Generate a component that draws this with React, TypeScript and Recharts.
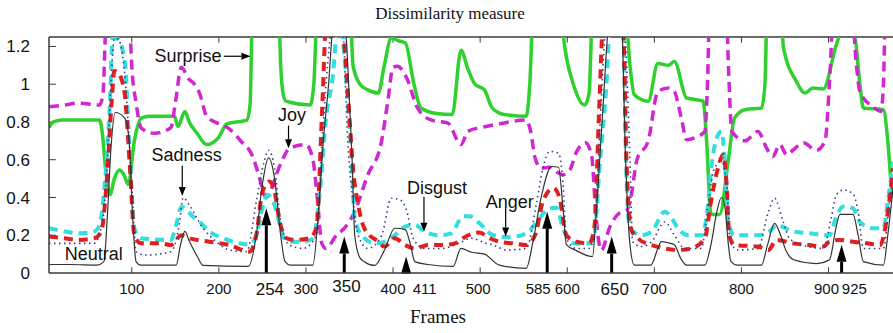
import React from "react"
import { LineChart, Line, XAxis, YAxis, ReferenceLine, ReferenceDot } from "recharts"

// [frame, value] pairs; values above 1.25 leave the plot
const neutral: [number, number][] = [
  [5, 0.045], [30, 0.045], [60, 0.042], [68, 0.06], [72, 0.3], [76, 0.65], [81, 0.85], [92, 0.82],
  [97, 0.7], [101, 0.3], [105, 0.06], [110, 0.042], [151, 0.042], [156, 0.15], [161, 0.22], [166, 0.17],
  [175, 0.09], [182, 0.04], [234, 0.035], [243, 0.2], [250, 0.47], [257, 0.61], [264, 0.5], [271, 0.2],
  [276, 0.06], [282, 0.042], [308, 0.042], [314, 0.3], [320, 0.7], [326, 1.0], [331, 1.3], [340, 1.4],
  [346, 1.26], [350, 0.9], [353, 0.6], [356, 0.2], [362, 0.08], [367, 0.06], [379, 0.04], [390, 0.12],
  [402, 0.237], [414, 0.23], [420, 0.15], [425, 0.06], [440, 0.045], [469, 0.035], [478, 0.13], [490, 0.11],
  [505, 0.1], [522, 0.042], [553, 0.025], [560, 0.15], [570, 0.4], [582, 0.564], [590, 0.56], [595, 0.35],
  [599, 0.15], [610, 0.12], [629, 0.087], [633, 0.3], [640, 0.8], [647, 1.3], [655, 1.5], [662, 1.4],
  [667, 0.6], [672, 0.15], [677, 0.042], [696, 0.042], [704, 0.13], [708, 0.166], [716, 0.16], [723, 0.15],
  [730, 0.08], [737, 0.042], [758, 0.042], [765, 0.15], [772, 0.33], [777, 0.4], [781, 0.35], [785, 0.15],
  [788, 0.06], [795, 0.042], [823, 0.042], [830, 0.15], [838, 0.263], [845, 0.2], [851, 0.12], [860, 0.07],
  [886, 0.05], [901, 0.07], [909, 0.25], [913, 0.31], [928, 0.31], [934, 0.2], [940, 0.06], [963, 0.042],
  [968, 0.2], [974, 0.45],
]

const surprise: [number, number][] = [
  [5, 0.77], [10, 0.8], [20, 0.81], [63, 0.81], [66, 0.75], [70, 0.55], [75, 0.414], [80, 0.5], [86, 0.546],
  [91, 0.52], [96, 0.47], [103, 0.7], [111, 0.82], [120, 0.83], [149, 0.83], [153, 0.776], [161, 0.856],
  [166, 0.8], [175, 0.74], [186, 0.68], [200, 0.72], [209, 0.79], [232, 0.81], [236, 0.9], [238, 1.3],
  [242, 1.5], [268, 1.5], [271, 1.1], [274, 0.944], [277, 0.91], [305, 0.89], [309, 1.0], [314, 1.5],
  [350, 1.5], [354, 1.1], [362, 1.0], [371, 0.97], [383, 0.953], [390, 1.1], [398, 1.245], [406, 1.23],
  [414, 1.22], [424, 1.0], [432, 0.874], [450, 0.845], [468, 0.84], [478, 1.18], [486, 1.08], [494, 1.0],
  [505, 0.97], [513, 0.88], [522, 0.847], [530, 0.838], [553, 0.83], [557, 1.0], [562, 1.5], [590, 1.5],
  [597, 1.2], [607, 1.0], [620, 0.89], [625, 0.95], [630, 1.5], [665, 1.5], [672, 1.1], [677, 0.944],
  [693, 0.91], [704, 1.11], [716, 1.1], [723, 1.12], [737, 0.927], [756, 0.91], [760, 0.7], [765, 0.31],
  [775, 0.31], [785, 0.6], [792, 0.82], [804, 0.865], [823, 0.874], [827, 1.0], [830, 1.5], [845, 1.5],
  [848, 1.2], [863, 1.015], [873, 0.953], [882, 0.98], [894, 0.975], [909, 1.21], [917, 1.3], [930, 1.25],
  [936, 1.0], [940, 0.874], [963, 0.865], [968, 0.7], [972, 0.467], [974, 0.4],
]

const joy: [number, number][] = [
  [5, 0.88], [23, 0.89], [38, 0.9], [63, 0.89], [67, 0.95], [70, 1.3], [73, 1.5], [95, 1.5], [98, 1.3],
  [100, 1.1], [105, 0.9], [111, 0.767], [126, 0.74], [145, 0.77], [150, 0.9], [157, 1.09], [165, 1.03],
  [172, 1.0], [178, 0.95], [186, 0.83], [200, 0.79], [210, 0.77], [225, 0.7], [239, 0.615], [245, 0.53],
  [250, 0.45], [254, 0.4], [260, 0.44], [266, 0.52], [274, 0.61], [281, 0.66], [300, 0.68], [308, 0.6],
  [313, 0.4], [318, 0.16], [323, 0.13], [335, 0.2], [344, 0.237], [356, 0.325], [371, 0.52], [386, 0.68],
  [394, 0.91], [400, 1.09], [405, 1.095], [416, 1.03], [428, 0.874], [444, 0.81], [463, 0.794], [478, 0.68],
  [486, 0.75], [505, 0.775], [522, 0.79], [553, 0.81], [558, 0.75], [563, 0.61], [570, 0.555], [580, 0.56],
  [590, 0.53], [595, 0.52], [603, 0.546], [610, 0.635], [621, 0.69], [628, 0.62], [633, 0.3], [639, 0.12],
  [649, 0.245], [660, 0.318], [668, 0.33], [673, 0.4], [680, 0.6], [693, 0.7], [704, 0.96], [716, 0.98],
  [723, 0.96], [731, 0.82], [737, 0.706], [748, 0.72], [758, 0.75], [761, 1.0], [764, 1.5], [782, 1.5],
  [785, 1.1], [789, 0.75], [804, 0.7], [819, 0.75], [829, 0.66], [836, 0.617], [844, 0.68], [852, 0.626],
  [859, 0.65], [871, 0.69], [886, 0.65], [896, 0.7], [901, 1.0], [907, 1.5], [925, 1.5], [932, 1.1],
  [936, 0.96], [951, 0.88], [960, 0.856], [963, 1.0], [966, 1.5], [974, 1.5],
]

const sadness: [number, number][] = [
  [5, 0.237], [23, 0.22], [38, 0.21], [57, 0.22], [63, 0.255], [69, 0.47], [75, 0.91], [78, 1.245],
  [84, 1.24], [92, 1.12], [98, 0.59], [103, 0.237], [111, 0.184], [145, 0.175], [151, 0.255], [157, 0.35],
  [165, 0.325], [170, 0.3], [178, 0.27], [189, 0.22], [205, 0.184], [224, 0.157], [235, 0.15], [243, 0.2],
  [250, 0.343], [256, 0.414], [264, 0.36], [270, 0.255], [275, 0.184], [281, 0.166], [297, 0.166],
  [308, 0.184], [316, 0.43], [323, 0.82], [331, 1.05], [335, 1.25], [340, 1.3], [345, 1.1], [348, 0.91],
  [352, 0.644], [356, 0.29], [364, 0.2], [379, 0.157], [390, 0.165], [402, 0.2], [414, 0.246], [425, 0.255],
  [436, 0.22], [452, 0.2], [467, 0.21], [480, 0.3], [488, 0.3], [499, 0.265], [515, 0.2], [534, 0.19],
  [553, 0.21], [565, 0.27], [580, 0.343], [588, 0.345], [595, 0.237], [610, 0.155], [625, 0.157],
  [631, 0.2], [637, 0.555], [645, 1.0], [649, 1.3], [664, 1.3], [668, 0.5], [672, 0.237], [685, 0.2],
  [697, 0.22], [712, 0.325], [720, 0.29], [727, 0.237], [739, 0.2], [754, 0.2], [762, 0.378], [765, 0.537],
  [773, 0.73], [777, 0.75], [781, 0.59], [785, 0.27], [792, 0.2], [819, 0.2], [834, 0.228], [840, 0.255],
  [859, 0.22], [878, 0.21], [901, 0.2], [909, 0.3], [917, 0.352], [928, 0.343], [936, 0.27], [951, 0.237],
  [963, 0.237], [968, 0.378], [974, 0.59],
]

const anger: [number, number][] = [
  [5, 0.193], [23, 0.184], [38, 0.175], [57, 0.184], [65, 0.22], [71, 0.467], [77, 0.91], [80, 1.07],
  [85, 1.06], [88, 1.03], [92, 0.944], [98, 0.555], [103, 0.2], [111, 0.157], [134, 0.157], [145, 0.148],
  [157, 0.2], [166, 0.184], [189, 0.166], [212, 0.148], [235, 0.113], [243, 0.2], [250, 0.43], [258, 0.485],
  [264, 0.43], [270, 0.27], [278, 0.184], [289, 0.175], [304, 0.184], [312, 0.237], [319, 0.91], [323, 1.3],
  [340, 1.3], [344, 1.21], [350, 0.82], [354, 0.555], [360, 0.36], [367, 0.237], [383, 0.166], [390, 0.14],
  [402, 0.184], [414, 0.148], [425, 0.13], [440, 0.148], [456, 0.148], [471, 0.157], [486, 0.2], [499, 0.215],
  [511, 0.184], [522, 0.166], [538, 0.157], [553, 0.148], [563, 0.2], [572, 0.378], [584, 0.45], [591, 0.4],
  [599, 0.2], [610, 0.166], [625, 0.157], [631, 0.237], [637, 0.91], [641, 1.3], [664, 1.3], [668, 0.6],
  [673, 0.237], [681, 0.184], [697, 0.148], [712, 0.13], [727, 0.122], [742, 0.13], [758, 0.184],
  [765, 0.378], [773, 0.555], [779, 0.626], [783, 0.467], [786, 0.2], [792, 0.148], [819, 0.14],
  [831, 0.122], [840, 0.175], [859, 0.157], [878, 0.148], [894, 0.14], [901, 0.166], [913, 0.175],
  [928, 0.166], [944, 0.157], [959, 0.148], [967, 0.29], [974, 0.555],
]

const disgust: [number, number][] = [
  [5, 0.157], [57, 0.157], [67, 0.29], [72, 0.6], [76, 1.0], [80, 1.24], [84, 1.24], [92, 1.05],
  [100, 0.467], [105, 0.113], [115, 0.095], [145, 0.113], [155, 0.27], [159, 0.4], [166, 0.36],
  [182, 0.237], [197, 0.166], [212, 0.122], [232, 0.113], [243, 0.378], [252, 0.59], [257, 0.65],
  [264, 0.555], [271, 0.27], [281, 0.148], [297, 0.13], [312, 0.2], [319, 0.73], [331, 1.3], [342, 1.3],
  [348, 0.7], [354, 0.38], [360, 0.2], [371, 0.13], [387, 0.2], [398, 0.396], [408, 0.387], [416, 0.325],
  [423, 0.184], [436, 0.13], [456, 0.13], [475, 0.157], [490, 0.184], [505, 0.16], [515, 0.148],
  [530, 0.122], [553, 0.13], [565, 0.378], [572, 0.555], [580, 0.644], [590, 0.635], [595, 0.485],
  [599, 0.184], [610, 0.13], [625, 0.13], [631, 0.2], [637, 0.73], [645, 1.3], [665, 1.3], [672, 0.6],
  [675, 0.166], [685, 0.14], [697, 0.166], [712, 0.27], [723, 0.2], [735, 0.13], [754, 0.13], [762, 0.378],
  [769, 0.555], [777, 0.59], [783, 0.47], [787, 0.166], [796, 0.122], [819, 0.13], [831, 0.325],
  [838, 0.396], [848, 0.27], [855, 0.184], [870, 0.148], [894, 0.13], [903, 0.29], [909, 0.414],
  [917, 0.44], [928, 0.42], [934, 0.325], [940, 0.13], [963, 0.13], [970, 0.378], [974, 0.5],
]

const xTicks = [100, 200, 254, 300, 350, 400, 411, 500, 585, 600, 650, 700, 800, 900, 925]
const gridTicks = [100, 200, 300, 400, 500, 600, 700, 800, 900]
const yTicks = [0, 0.2, 0.4, 0.6, 0.8, 1, 1.2]

// marked frames: where the arrows sit, and how high their heads reach
const arrowFrames = [254.5, 344, 415, 577, 651, 915]
const arrowTops = [0.343, 0.193, 0.087, 0.325, 0.193, 0.149]

// tick label nudges (px) where the figure moved them apart
const tickShift: Record<number, number> = { 254: 4, 350: -3, 411: 22, 500: -2, 585: -16, 650: 4, 900: -2, 925: 4 }
const bigTicks = [254, 350, 650]

const notes = [
  { text: "Surprise", f: 164.6, v: 1.148 },
  { text: "Sadness", f: 163, v: 0.626 },
  { text: "Neutral", f: 56.3, v: 0.101 },
  { text: "Joy", f: 284, v: 0.838 },
  { text: "Disgust", f: 450.4, v: 0.452 },
  { text: "Anger", f: 533.9, v: 0.378 },
]
const noteArrows = [
  { f1: 205.7, v1: 1.148, f2: 236.3, v2: 1.148 },
  { f1: 158, v1: 0.568, f2: 158, v2: 0.408 },
  { f1: 280, v1: 0.781, f2: 280, v2: 0.661 },
  { f1: 435.5, v1: 0.404, f2: 435.5, v2: 0.218 },
  { f1: 529.3, v1: 0.344, f2: 529.3, v2: 0.193 },
]

const sans = "'Liberation Sans', Arial, sans-serif"
const serif = "'Liberation Serif', 'Times New Roman', serif"
const frameColor = "#3a3a3a"

const rows = (pts: [number, number][]) => pts.map(([f, v]) => ({ f, v }))

function arrowShape(headLen: number, headHalf: number, width: number) {
  return (p: any) => {
    const { x1, y1, x2, y2 } = p
    const dx = x2 - x1
    const dy = y2 - y1
    const len = Math.hypot(dx, dy) || 1
    const ux = dx / len
    const uy = dy / len
    const bx = x2 - ux * headLen
    const by = y2 - uy * headLen
    const px = -uy * headHalf
    const py = ux * headHalf
    return (
      <g>
        <line x1={x1} y1={y1} x2={bx} y2={by} stroke="#000" strokeWidth={width} />
        <polygon points={`${x2},${y2} ${bx + px},${by + py} ${bx - px},${by - py}`} fill="#000" />
      </g>
    )
  }
}

const XTick = (props: any) => {
  const { x, y, payload } = props
  const val = payload.value
  const big = bigTicks.includes(val)
  return (
    <text
      x={x + (tickShift[val] ?? 0)}
      y={y - (val === 350 ? 3 : 0)}
      dy="0.71em"
      textAnchor="middle"
      fontSize={big ? 17 : 15}
      fontFamily={sans}
      fill="#111"
    >
      {val}
    </text>
  )
}

const fmtY = (v: number) => (v === 0 ? "0" : v === 1 ? "1" : v.toFixed(1))

export default function App() {
  return (
    <div style={{ position: "relative", width: 893, height: 333, background: "#fff", overflow: "hidden" }}>
      <style>{"body{margin:0}"}</style>
      <div
        style={{
          position: "absolute", top: 4, left: 0, width: 900, textAlign: "center",
          fontFamily: serif, fontSize: 17, color: "#111",
        }}
      >
        Dissimilarity measure
      </div>
      <LineChart width={893} height={333} margin={{ top: 37, right: 0, bottom: 0, left: 0 }}>
        <XAxis
          type="number"
          dataKey="f"
          domain={[5, 974]}
          allowDataOverflow
          ticks={xTicks}
          interval={0}
          tickLine={false}
          tickSize={0}
          tickMargin={10}
          height={60}
          tick={<XTick />}
          axisLine={{ stroke: frameColor, strokeWidth: 1.5 }}
        />
        <YAxis
          type="number"
          domain={[0, 1.25]}
          allowDataOverflow
          ticks={yTicks}
          tickFormatter={fmtY}
          width={49}
          tickLine={false}
          tickSize={0}
          tickMargin={19}
          tick={{ fontSize: 17, fill: "#111", fontFamily: sans }}
          axisLine={{ stroke: frameColor, strokeWidth: 1.5 }}
        />
        <ReferenceLine y={1.25} stroke={frameColor} strokeWidth={1.5} />
        {gridTicks.map((t) => (
          <ReferenceLine key={"b" + t} segment={[{ x: t, y: 0 }, { x: t, y: 0.03 }]} stroke={frameColor} />
        ))}
        {gridTicks.map((t) => (
          <ReferenceLine key={"t" + t} segment={[{ x: t, y: 1.22 }, { x: t, y: 1.25 }]} stroke={frameColor} />
        ))}
        {yTicks.slice(1).map((t) => (
          <ReferenceLine key={"y" + t} segment={[{ x: 5, y: t }, { x: 13, y: t }]} stroke={frameColor} />
        ))}

        <Line data={rows(surprise)} dataKey="v" type="monotone" stroke="#2fd12f" strokeWidth={3.5} dot={false} isAnimationActive={false} />
        <Line data={rows(joy)} dataKey="v" type="monotone" stroke="#d028d0" strokeWidth={3.5} strokeDasharray="10 6" dot={false} isAnimationActive={false} />
        <Line data={rows(sadness)} dataKey="v" type="monotone" stroke="#33dede" strokeWidth={4} strokeDasharray="9 6" dot={false} isAnimationActive={false} />
        <Line data={rows(anger)} dataKey="v" type="monotone" stroke="#e02020" strokeWidth={4} strokeDasharray="9 6" dot={false} isAnimationActive={false} />
        <Line data={rows(disgust)} dataKey="v" type="monotone" stroke="#3c3c86" strokeWidth={1.6} strokeDasharray="1.5 3.5" dot={false} isAnimationActive={false} />
        <Line data={rows(neutral)} dataKey="v" type="monotone" stroke="#333" strokeWidth={1.2} dot={false} isAnimationActive={false} />

        {arrowFrames.map((f, i) => (
          <ReferenceLine
            key={"a" + f}
            segment={[{ x: f, y: 0 }, { x: f, y: arrowTops[i] }]}
            shape={arrowShape(17, 5, 3)}
          />
        ))}
        {noteArrows.map((a, i) => (
          <ReferenceLine
            key={"n" + i}
            segment={[{ x: a.f1, y: a.v1 }, { x: a.f2, y: a.v2 }]}
            shape={arrowShape(9, 3.5, 1.2)}
          />
        ))}
        {notes.map((n) => (
          <ReferenceDot
            key={n.text}
            x={n.f}
            y={n.v}
            r={1}
            shape={(p: any) => (
              <text x={p.cx} y={p.cy} textAnchor="middle" dominantBaseline="central" fontSize={18} fontFamily={sans} fill="#111">
                {n.text}
              </text>
            )}
          />
        ))}
      </LineChart>
      <div
        style={{
          position: "absolute", top: 306, left: 0, width: 876, textAlign: "center",
          fontFamily: serif, fontSize: 19, color: "#111",
        }}
      >
        Frames
      </div>
    </div>
  )
}
